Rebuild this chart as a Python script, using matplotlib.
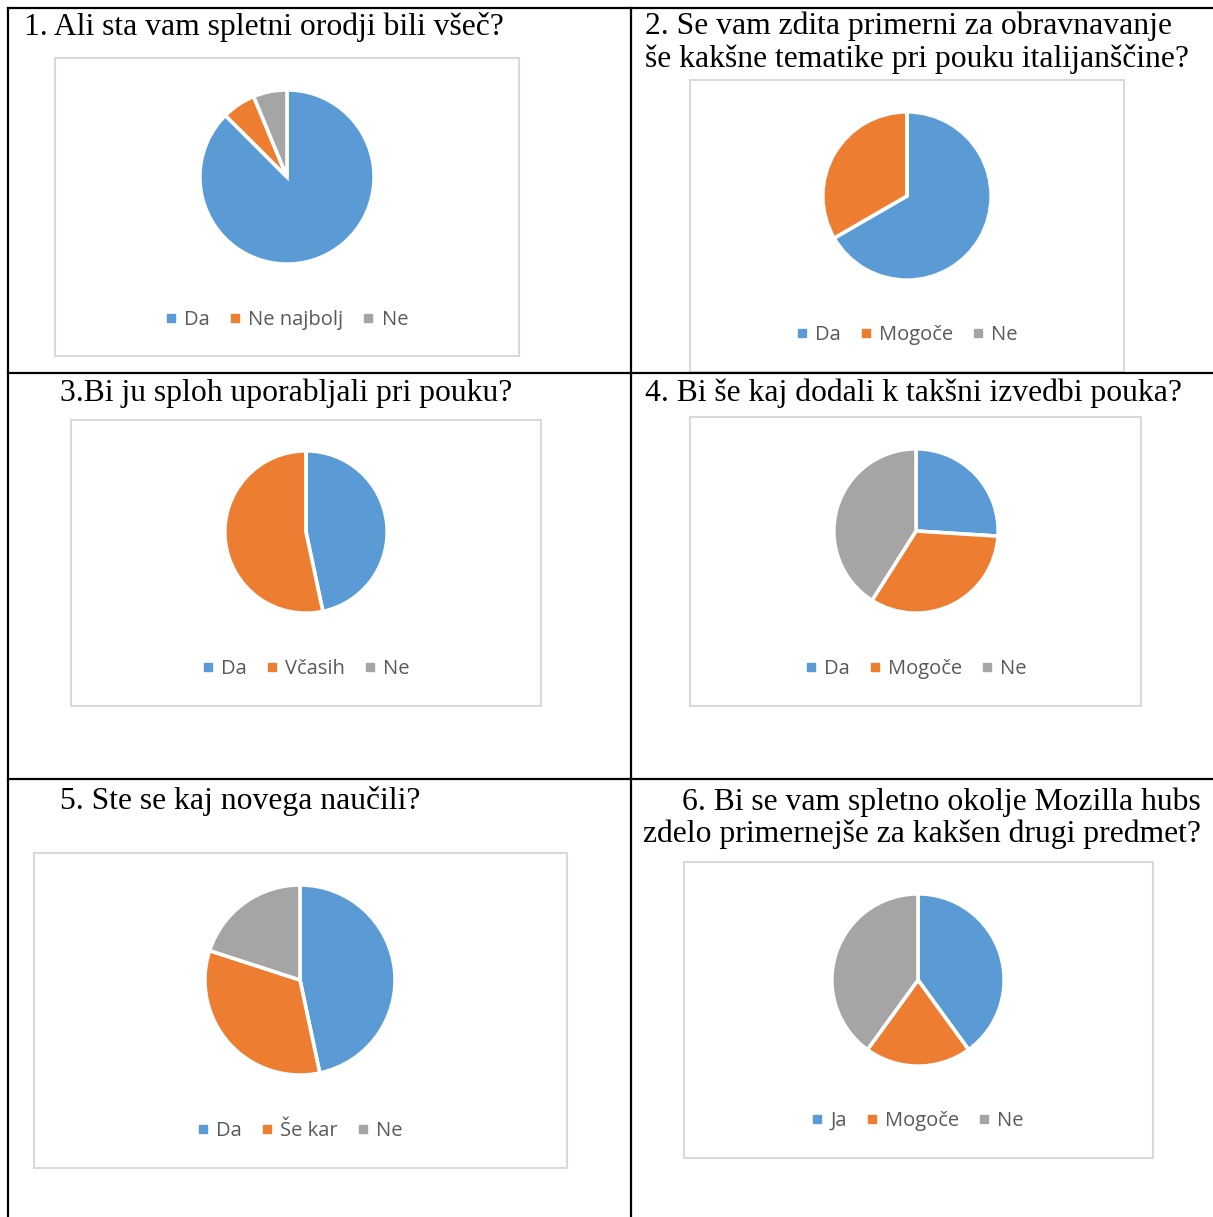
import matplotlib.pyplot as plt
from matplotlib.lines import Line2D
from matplotlib.patches import Rectangle

W, H = 1213, 1217

colors = ["#5B9BD5", "#ED7D31", "#A5A5A5"]

titles = [
    "1. Ali sta vam spletni orodji bili všeč?",
    "2. Se vam zdita primerni za obravnavanje\nše kakšne tematike pri pouku italijanščine?",
    "3.Bi ju sploh uporabljali pri pouku?",
    "4. Bi še kaj dodali k takšni izvedbi pouka?",
    "5. Ste se kaj novega naučili?",
    "6. Bi se vam spletno okolje Mozilla hubs\nzdelo primernejše za kakšen drugi predmet?",
]

labels_1 = ["Da", "Ne najbolj", "Ne"]
labels_2 = ["Da", "Mogoče", "Ne"]
labels_3 = ["Da", "Včasih", "Ne"]
labels_4 = ["Da", "Mogoče", "Ne"]
labels_5 = ["Da", "Še kar", "Ne"]
labels_6 = ["Ja", "Mogoče", "Ne"]

values_1 = [14, 1, 1]
values_2 = [10, 5, 0]
values_3 = [7, 8, 0]
values_4 = [26, 33, 41]
values_5 = [7, 5, 3]
values_6 = [2, 1, 2]

labels = [labels_1, labels_2, labels_3, labels_4, labels_5, labels_6]
values = [values_1, values_2, values_3, values_4, values_5, values_6]

# layout in pixels: chart box (x0, y0, x1, y1), pie centre, radius, legend y
boxes = [(55, 58, 519, 356), (690, 80, 1124, 372), (71, 420, 541, 706),
         (690, 417, 1141, 706), (34, 853, 567, 1168), (684, 862, 1153, 1158)]
pies = [(287, 177, 88), (907, 196, 85), (306, 532, 82),
        (916, 531, 83), (300, 980, 96), (918, 980, 87)]
legend_y = [320, 335, 669, 669, 1131, 1121]
title_pos = [(24, 27, "left"), (645, 43, "left"), (60, 393, "left"),
             (645, 393, "left"), (60, 801, "left"), (1201, 818, "right")]

fig = plt.figure(figsize=(W / 100, H / 100), dpi=100)
bg = fig.add_axes([0, 0, 1, 1])
bg.set_xlim(0, W)
bg.set_ylim(H, 0)
bg.axis("off")

# table grid
lk = dict(color="black", lw=1.6)
bg.plot([8, W], [8, 8], **lk)
bg.plot([8, 8], [8, H], **lk)
bg.plot([631, 631], [8, H], **lk)
bg.plot([8, W], [373, 373], **lk)
bg.plot([8, W], [779, 779], **lk)

for i in range(6):
    x0, y0, x1, y1 = boxes[i]
    bg.add_patch(Rectangle((x0, y0), x1 - x0, y1 - y0, fill=False,
                           ec="#D9D9D9", lw=1.5, zorder=1))
    tx, ty, ha = title_pos[i]
    bg.text(tx, ty, titles[i], ha=ha, va="center", fontsize=22.8,
            family="Liberation Serif", linespacing=1.12,
            multialignment="right" if ha == "right" else "left")

    cx, cy, r = pies[i]
    ax = fig.add_axes([(cx - r) / W, 1 - (cy + r) / H, 2 * r / W, 2 * r / H])
    ax.pie(values[i], colors=colors, startangle=90, counterclock=False,
           wedgeprops=dict(edgecolor="white", linewidth=2.6))
    ax.set_xlim(-1.01, 1.01)
    ax.set_ylim(-1.01, 1.01)
    ax.set_aspect("equal")

    handles = [Line2D([], [], marker="s", ls="", color=c, markersize=6) for c in colors]
    fig.legend(handles, labels[i], loc="center", ncol=3, frameon=False,
               bbox_to_anchor=(cx / W, 1 - legend_y[i] / H),
               handlelength=0.5, handletextpad=0.4, columnspacing=1.0,
               prop=dict(family="Open Sans", size=14.5), labelcolor="#595959")

fig.savefig("out.png", dpi=100)
